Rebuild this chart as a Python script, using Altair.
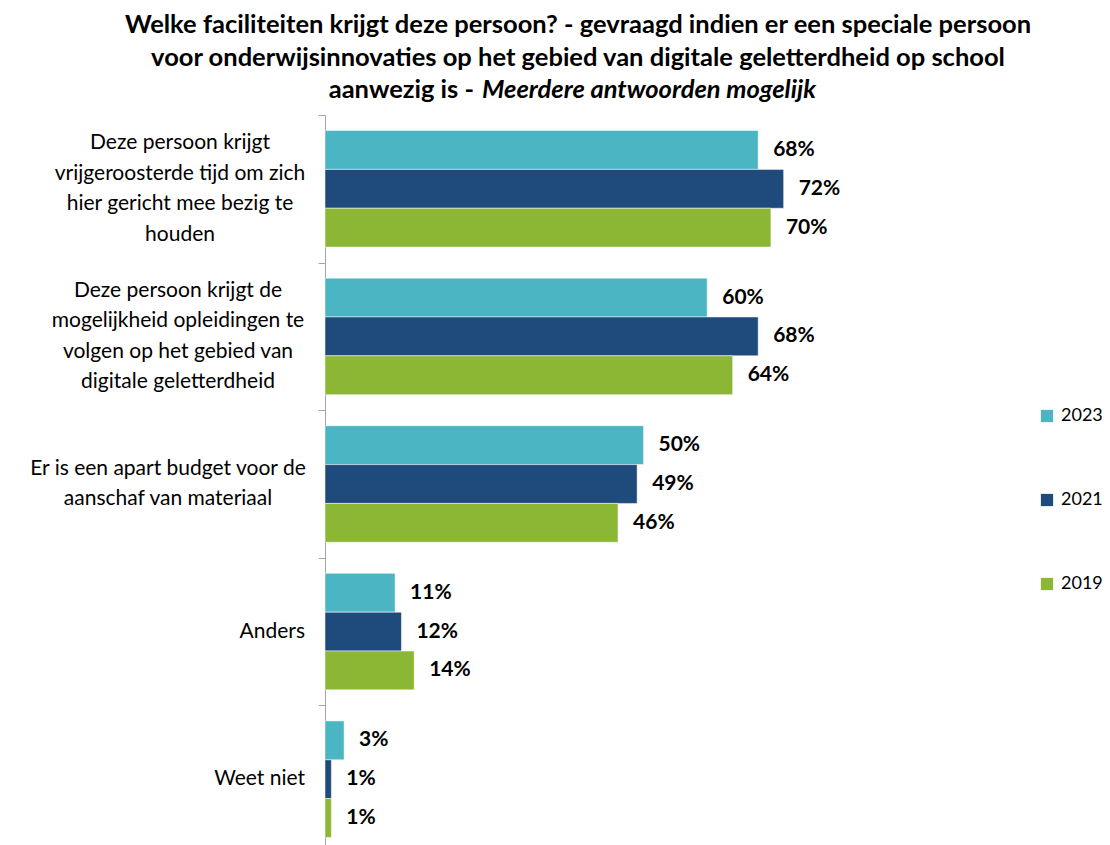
import altair as alt
import pandas as pd

categories = [
    "Deze persoon krijgt vrijgeroosterde tijd om zich hier gericht mee bezig te houden",
    "Deze persoon krijgt de mogelijkheid opleidingen te volgen op het gebied van digitale geletterdheid",
    "Er is een apart budget voor de aanschaf van materiaal",
    "Anders",
    "Weet niet",
]
category_lines = [
    ["Deze persoon krijgt", "vrijgeroosterde tijd om zich", "hier gericht mee bezig te", "houden"],
    ["Deze persoon krijgt de", "mogelijkheid opleidingen te", "volgen op het gebied van", "digitale geletterdheid"],
    ["Er is een apart budget voor de", "aanschaf van materiaal"],
    ["Anders"],
    ["Weet niet"],
]
years = ["2023", "2021", "2019"]
v2023 = [68, 60, 50, 11, 3]
v2021 = [72, 68, 49, 12, 1]
v2019 = [70, 64, 46, 14, 1]
colors = ["#4BB5C4", "#1F4A7C", "#8BB735"]

title_lines = [
    "Welke faciliteiten krijgt deze persoon? - gevraagd indien er een speciale persoon",
    "voor onderwijsinnovaties op het gebied van digitale geletterdheid op school",
]
title_l3a = "aanwezig is -"
title_l3b = "Meerdere antwoorden mogelijk"

FONT = "Lato"
LABEL_FS = 21
LABEL_LH = 30.5

rows = []
for year, vals in zip(years, [v2023, v2021, v2019]):
    for c, v in zip(categories, vals):
        rows.append({"cat": c, "year": year, "value": v, "label": f"{v}%"})
df = pd.DataFrame(rows)
cat_df = pd.DataFrame({"cat": categories})

y_scale = alt.Scale(domain=categories, paddingInner=0, paddingOuter=0)
y_axis = alt.Axis(
    title=None,
    labels=False,
    domainColor="#A6A6A6",
    tickColor="#A6A6A6",
    tickSize=7,
    tickBand="extent",
    grid=False,
)
y_enc = alt.Y("cat:N", sort=categories, scale=y_scale, axis=y_axis)
yoff = alt.YOffset("year:N", sort=years, scale=alt.Scale(paddingOuter=0.4, paddingInner=0))
x_enc = alt.X("value:Q", scale=alt.Scale(domain=[0, 100]), axis=None)

base = alt.Chart(df)
bars = base.mark_bar(stroke="white", strokeWidth=0.5).encode(
    y=y_enc,
    yOffset=yoff,
    x=x_enc,
    color=alt.Color(
        "year:N",
        sort=years,
        scale=alt.Scale(domain=years, range=colors),
        legend=alt.Legend(
            title=None,
            orient="none",
            legendX=713,
            legendY=292,
            symbolType="square",
            symbolSize=150,
            symbolStrokeWidth=0,
            labelFont=FONT,
            labelFontSize=18,
            labelColor="#000000",
            rowPadding=66,
            labelOffset=5,
        ),
    ),
)
values = base.mark_text(
    align="left", baseline="middle", dx=15, font=FONT, fontSize=21, fontWeight="bold", color="#000000"
).encode(y=y_enc, yOffset=yoff, x=x_enc, text="label:N")

# category labels: centred lines, block right edge next to the axis
label_layers = []
label_centers = [-145, -147, -157, None, None]
for c, lines, cx in zip(categories, category_lines, label_centers):
    n = len(lines)
    mk = dict(
        text=lines if n > 1 else lines[0],
        baseline="middle",
        font=FONT,
        fontSize=LABEL_FS,
        lineHeight=LABEL_LH,
        color="#000000",
        dy=-(n - 1) * LABEL_LH / 2,
    )
    if cx is None:
        mk["align"] = "right"
        xv = -20
    else:
        mk["align"] = "center"
        xv = cx
    layer = (
        alt.Chart(cat_df)
        .transform_filter(alt.datum.cat == c)
        .mark_text(**mk)
        .encode(y=alt.Y("cat:N", sort=categories, scale=y_scale, axis=y_axis), x=alt.value(xv))
    )
    label_layers.append(layer)

one = pd.DataFrame({"a": [0]})
t12 = alt.Chart(one).mark_text(
    text=title_lines, align="center", baseline="middle", font=FONT, fontSize=25.5,
    fontWeight="bold", lineHeight=32.5, color="#000000",
).encode(x=alt.value(253), y=alt.value(-90))
t3a = alt.Chart(one).mark_text(
    text=title_l3a, align="right", baseline="middle", font=FONT, fontSize=25.5,
    fontWeight="bold", color="#000000",
).encode(x=alt.value(149), y=alt.value(-25))
t3b = alt.Chart(one).mark_text(
    text=title_l3b, align="left", baseline="middle", font=FONT, fontSize=25.5,
    fontWeight="bold", fontStyle="italic", color="#000000",
).encode(x=alt.value(157), y=alt.value(-25))

chart = (
    alt.layer(bars, values, *label_layers, t12, t3a, t3b)
    .properties(
        width=637,
        height=738,
        padding={"left": 317, "top": 107, "right": 140, "bottom": 0},
        autosize=alt.AutoSizeParams(type="none"),
    )
    .configure(font=FONT)
    .configure_view(stroke=None, strokeWidth=0)
)

chart.save("out.html", embed_options={"renderer": "svg", "actions": False})
